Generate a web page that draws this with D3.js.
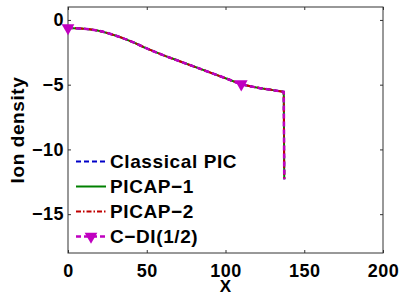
<!DOCTYPE html>
<html>
<head>
<meta charset="utf-8">
<title>Ion density</title>
<script src="https://cdn.jsdelivr.net/npm/d3@7"></script>
<style>
  body { margin: 0; background: #fff; }
  text { font-family: "Liberation Sans", Arial, Helvetica, sans-serif; font-weight: bold; }
</style>
</head>
<body>
<div id="chart"></div>
<script>
// data (all four schemes lie on top of each other)
var xPos        = [0, 10, 20, 30, 40, 50, 60, 70, 80, 90, 100, 110, 120, 130, 137, 137.3];
var classical   = [-0.62, -0.68, -0.85, -1.2, -1.65, -2.2, -2.7, -3.15, -3.6, -4.05, -4.5, -4.95, -5.22, -5.42, -5.55, -12.3];
var picap1      = [-0.62, -0.68, -0.85, -1.2, -1.65, -2.2, -2.7, -3.15, -3.6, -4.05, -4.5, -4.95, -5.22, -5.42, -5.55, -12.3];
var picap2      = [-0.62, -0.68, -0.85, -1.2, -1.65, -2.2, -2.7, -3.15, -3.6, -4.05, -4.5, -4.95, -5.22, -5.42, -5.55, -12.3];
var cdi         = [-0.62, -0.68, -0.85, -1.2, -1.65, -2.2, -2.7, -3.15, -3.6, -4.05, -4.5, -4.95, -5.22, -5.42, -5.55, -12.3];
var markerX     = [0, 110];
var legendNames = ["Classical PIC", "PICAP\u22121", "PICAP\u22122", "C\u2212DI(1/2)"];
var xTicks = [0, 50, 100, 150, 200];
var yTicks = [0, -5, -10, -15];

var W = 402, H = 294;
var margin = {left: 68, right: 19, top: 7, bottom: 41};

var svg = d3.select("#chart").append("svg")
    .attr("width", W).attr("height", H);

var x = d3.scaleLinear().domain([0, 200]).range([margin.left, W - margin.right]);
var y = d3.scaleLinear().domain([-18, 1]).range([H - margin.bottom, margin.top]);

var styles = [
  {color: "#0000c8", dash: "5,3", width: 2},
  {color: "#008000", dash: null, width: 2},
  {color: "#c00000", dash: "5,2,1.5,2", width: 2},
  {color: "#c000c0", dash: "5,3", width: 2.5}
];
var allSeries = [classical, picap1, picap2, cdi];

// frame and ticks
var g = svg.append("g");
var axColor = "#333";
g.append("rect")
  .attr("x", x(0)).attr("y", y(1))
  .attr("width", x(200) - x(0)).attr("height", y(-18) - y(1))
  .attr("fill", "none").attr("stroke", axColor).attr("stroke-width", 1);

var xb = d3.axisBottom(x).tickValues(xTicks).tickSizeInner(-3).tickSizeOuter(0).tickPadding(11);
var xt = d3.axisTop(x).tickValues(xTicks).tickSizeInner(-3).tickSizeOuter(0).tickFormat("");
var yl = d3.axisLeft(y).tickValues(yTicks).tickSizeInner(-3).tickSizeOuter(0).tickPadding(4)
    .tickFormat(function(d) { return d < 0 ? "\u2212" + (-d) : d; });
var yr = d3.axisRight(y).tickValues(yTicks).tickSizeInner(-3).tickSizeOuter(0).tickFormat("");

function styleAxis(sel) {
  sel.select(".domain").remove();
  sel.selectAll("line").attr("stroke", axColor);
  sel.selectAll("text").attr("fill", "#000").style("font-size", "18px")
     .style("letter-spacing", "0.5px")
     .style("font-family", "'Liberation Sans', Arial, sans-serif").style("font-weight", "bold");
}
g.append("g").attr("transform", "translate(0," + y(-18) + ")").call(xb).call(styleAxis);
g.append("g").attr("transform", "translate(0," + y(1) + ")").call(xt).call(styleAxis);
g.append("g").attr("transform", "translate(" + x(0) + ",0)").call(yl).call(styleAxis);
g.append("g").attr("transform", "translate(" + x(200) + ",0)").call(yr).call(styleAxis);

// axis labels
svg.append("text").attr("x", x(100)).attr("y", 291.5)
  .attr("text-anchor", "middle").style("font-size", "17px").text("X");
svg.append("text")
  .attr("transform", "translate(24," + ((y(1) + y(-18)) / 2) + ") rotate(-90)")
  .attr("text-anchor", "middle").style("font-size", "19px")
  .style("letter-spacing", "0.6px").text("Ion density");

// curves: smooth part, then the straight drop at the end
var line = d3.line()
  .x(function(d, i) { return x(xPos[i]); })
  .y(function(d) { return y(d); })
  .curve(d3.curveMonotoneX);

allSeries.forEach(function(vals, k) {
  var s = styles[k];
  var n = vals.length - 1;
  svg.append("path")
    .attr("d", line(vals.slice(0, n)) + "L" + x(xPos[n]) + "," + y(vals[n]))
    .attr("fill", "none")
    .attr("stroke", s.color)
    .attr("stroke-width", s.width)
    .attr("stroke-dasharray", s.dash);
});

var tri = d3.symbol().type(d3.symbolTriangle).size(70);
markerX.forEach(function(mx) {
  var i = xPos.indexOf(mx);
  svg.append("path")
    .attr("d", tri)
    .attr("transform", "translate(" + x(mx) + "," + y(cdi[i]) + ") rotate(180)")
    .attr("fill", styles[3].color);
});

// legend
var leg = svg.append("g");
legendNames.forEach(function(name, k) {
  var ly = 161.5 + k * 25;
  var s = styles[k];
  leg.append("line")
    .attr("x1", 76).attr("x2", 106).attr("y1", ly).attr("y2", ly)
    .attr("stroke", s.color).attr("stroke-width", s.width)
    .attr("stroke-dasharray", s.dash);
  if (k === 3) {
    leg.append("path").attr("d", tri)
      .attr("transform", "translate(91," + ly + ") rotate(180)")
      .attr("fill", s.color);
  }
  leg.append("text").attr("x", 110).attr("y", ly + 6.5)
    .style("font-size", "19px").style("letter-spacing", "0.6px").text(name);
});
</script>
</body>
</html>
